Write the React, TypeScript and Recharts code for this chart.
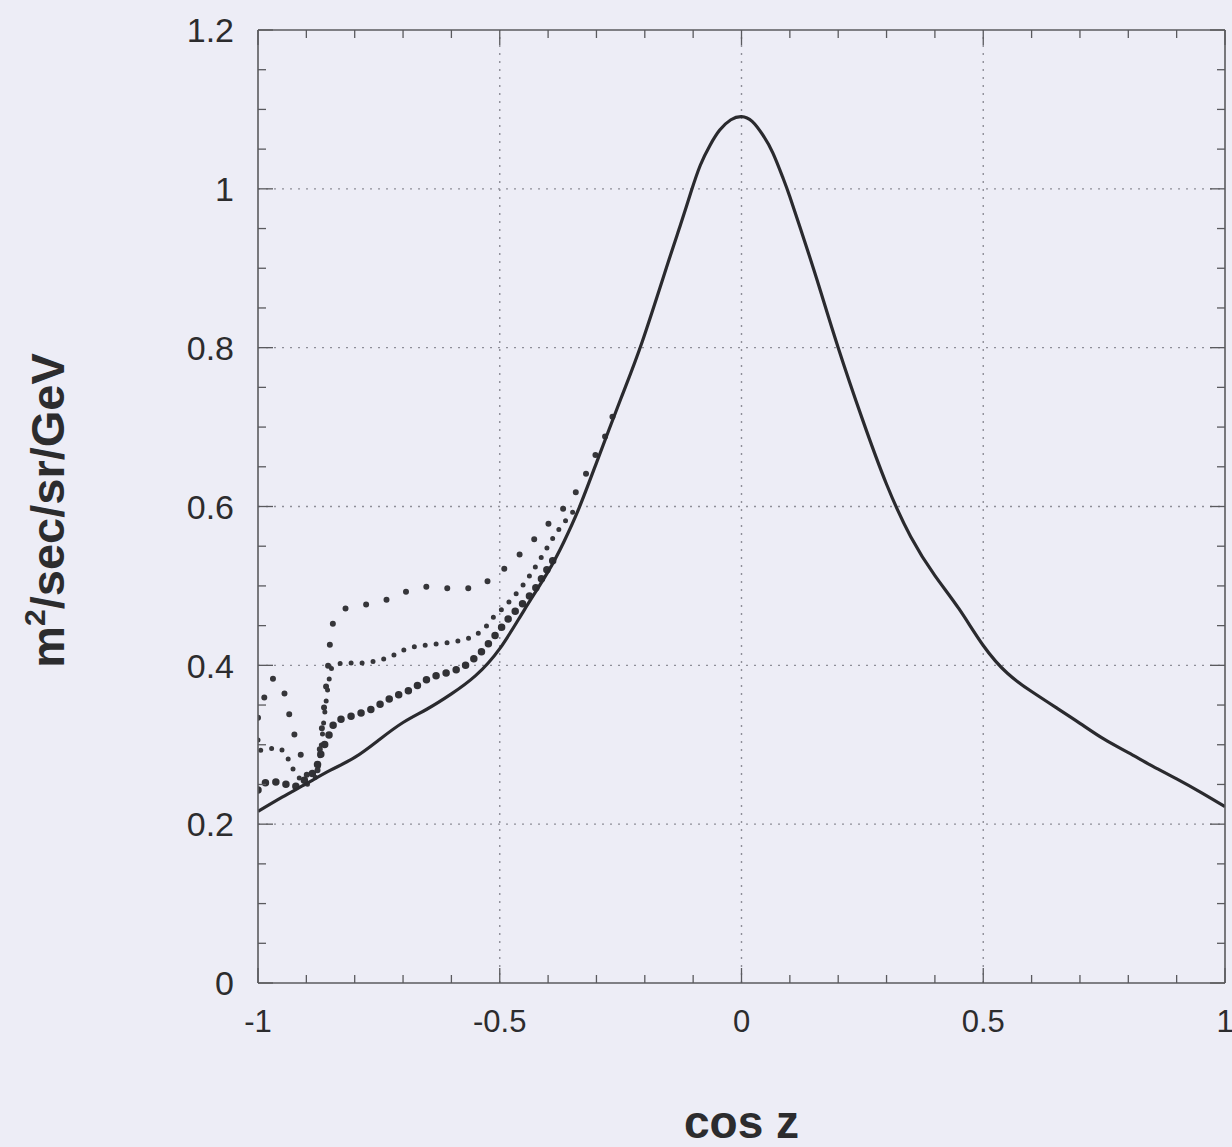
import { LineChart, Line, XAxis, YAxis, ReferenceLine } from "recharts";

// cos z grid points, one pair of arrays per curve.
const solidCos = [
  -1, -0.95, -0.9, -0.85, -0.8, -0.75, -0.7, -0.65, -0.6, -0.55, -0.5, -0.45, -0.4, -0.367, -0.336,
  -0.3, -0.25, -0.205, -0.153, -0.126, -0.105, -0.085, -0.065, -0.045, -0.022, 0, 0.022, 0.045, 0.065,
  0.085, 0.1, 0.13, 0.16, 0.2, 0.25, 0.3, 0.35, 0.4, 0.45, 0.5, 0.55, 0.6, 0.65, 0.7, 0.75, 0.8, 0.85,
  0.9, 0.95, 1,
];
const solidFlux = [
  0.216, 0.234, 0.251, 0.268, 0.284, 0.306, 0.328, 0.345, 0.364, 0.387, 0.421, 0.469, 0.518, 0.556, 0.598,
  0.655, 0.735, 0.808, 0.905, 0.955, 0.995, 1.03, 1.055, 1.074, 1.087, 1.091, 1.085, 1.067, 1.045,
  1.015, 0.99, 0.935, 0.878, 0.8, 0.71, 0.628, 0.562, 0.513, 0.471, 0.425, 0.39, 0.367, 0.347, 0.327,
  0.307, 0.29, 0.273, 0.257, 0.24, 0.222,
];

const sparseCos = [
  -1, -0.986, -0.966, -0.941, -0.933, -0.92, -0.906, -0.893, -0.88, -0.868, -0.855, -0.848, -0.835,
  -0.826, -0.78, -0.737, -0.692, -0.648, -0.602, -0.558, -0.513, -0.472, -0.43, -0.389, -0.35, -0.326,
  -0.302, -0.281, -0.267, -0.25,
];
const sparseFlux = [
  0.334, 0.361, 0.384, 0.356, 0.331, 0.304, 0.277, 0.255, 0.26, 0.32, 0.4, 0.445, 0.465,
  0.47, 0.476, 0.482, 0.493, 0.499, 0.497, 0.497, 0.511, 0.532, 0.558, 0.585, 0.611, 0.636,
  0.665, 0.69, 0.713, 0.735,
];

const midCos = [
  -1, -0.995, -0.96, -0.94, -0.93, -0.917, -0.9, -0.885, -0.872, -0.862, -0.852, -0.845, -0.817,
  -0.79, -0.735, -0.686, -0.645, -0.603, -0.576, -0.551, -0.531, -0.514, -0.493, -0.472, -0.452,
  -0.437, -0.41, -0.385, -0.36, -0.336,
];
const midFlux = [
  0.306, 0.293, 0.296, 0.285, 0.272, 0.26, 0.25, 0.255, 0.285, 0.34, 0.385, 0.4, 0.403,
  0.403, 0.409, 0.422, 0.426, 0.429, 0.432, 0.438, 0.447, 0.46, 0.472, 0.486, 0.501,
  0.514, 0.54, 0.565, 0.585, 0.602,
];

const thickCos = [
  -1, -0.98, -0.955, -0.928, -0.903, -0.879, -0.869, -0.851, -0.84, -0.817, -0.797, -0.776, -0.721,
  -0.686, -0.645, -0.603, -0.576, -0.556, -0.535, -0.517, -0.496, -0.479, -0.452, -0.424, -0.403, -0.38,
];
const thickFlux = [
  0.243, 0.253, 0.253, 0.247, 0.256, 0.272, 0.29, 0.315, 0.329, 0.334, 0.338, 0.342, 0.36,
  0.369, 0.384, 0.392, 0.398, 0.407, 0.419, 0.432, 0.448, 0.461, 0.478, 0.499, 0.52, 0.541,
];

const xMajor = [-1, -0.5, 0, 0.5, 1];
const xMinor = [-0.9, -0.8, -0.7, -0.6, -0.4, -0.3, -0.2, -0.1, 0.1, 0.2, 0.3, 0.4, 0.6, 0.7, 0.8, 0.9];
const yMajor = [0, 0.2, 0.4, 0.6, 0.8, 1, 1.2];
const yMinor = [
  0.05, 0.1, 0.15, 0.25, 0.3, 0.35, 0.45, 0.5, 0.55, 0.65, 0.7, 0.75, 0.85, 0.9, 0.95, 1.05, 1.1, 1.15,
];
const xGrid = [-0.5, 0, 0.5];
const yGrid = [0.2, 0.4, 0.6, 0.8, 1];

const zip = (xs: number[], ys: number[]) => xs.map((x, i) => ({ x, y: ys[i] }));
const solid = zip(solidCos, solidFlux);
const sparse = zip(sparseCos, sparseFlux);
const mid = zip(midCos, midFlux);
const thick = zip(thickCos, thickFlux);

const xTicks = [...xMajor, ...xMinor].sort((a, b) => a - b);
const yTicks = [...yMajor, ...yMinor].sort((a, b) => a - b);

const FONT = '"Liberation Sans", Arial, Helvetica, sans-serif';
const INK = "#2c2c2e";
const FRAME = "#5a5a5e";
const X_GAP = 27;
const Y_GAP = 24;

const isIn = (arr: number[], v: number) => arr.some((a) => Math.abs(a - v) < 1e-6);

function BottomTick({ x, y, payload }: any) {
  const major = isIn(xMajor, payload.value);
  const y0 = y - X_GAP;
  return (
    <g>
      <line x1={x} x2={x} y1={y0} y2={y0 - (major ? 15 : 8)} stroke={FRAME} strokeWidth={1.3} />
      {major && (
        <text x={x} y={y} dy="0.71em" textAnchor="middle" fontFamily={FONT} fontSize={31} fill={INK}>
          {String(payload.value)}
        </text>
      )}
    </g>
  );
}

function TopTick({ x, y, payload }: any) {
  const major = isIn(xMajor, payload.value);
  return <line x1={x} x2={x} y1={y} y2={y + (major ? 15 : 8)} stroke={FRAME} strokeWidth={1.3} />;
}

function LeftTick({ x, y, payload }: any) {
  const major = isIn(yMajor, payload.value);
  const x0 = x + Y_GAP;
  return (
    <g>
      <line x1={x0} x2={x0 + (major ? 15 : 8)} y1={y} y2={y} stroke={FRAME} strokeWidth={1.3} />
      {major && (
        <text x={x} y={y} dy="0.36em" textAnchor="end" fontFamily={FONT} fontSize={34} fill={INK}>
          {String(payload.value)}
        </text>
      )}
    </g>
  );
}

function RightTick({ x, y, payload }: any) {
  const major = isIn(yMajor, payload.value);
  return <line x1={x} x2={x - (major ? 15 : 8)} y1={y} y2={y} stroke={FRAME} strokeWidth={1.3} />;
}

function YTitle({ viewBox }: any) {
  const cx = viewBox.x + 64;
  const cy = viewBox.y + viewBox.height / 2 + 4;
  return (
    <text
      transform={`translate(${cx},${cy}) rotate(-90)`}
      textAnchor="middle"
      fontFamily={FONT}
      fontWeight="bold"
      fontSize={47}
      fill={INK}
    >
      m
      <tspan dy={-19} fontSize={30}>
        2
      </tspan>
      <tspan dy={19}>/sec/sr/GeV</tspan>
    </text>
  );
}

function XTitle({ viewBox }: any) {
  return (
    <text
      x={viewBox.x + viewBox.width / 2}
      y={viewBox.y + 155}
      textAnchor="middle"
      fontFamily={FONT}
      fontWeight="bold"
      fontSize={46}
      fill={INK}
    >
      cos z
    </text>
  );
}

export default function App() {
  return (
    <div style={{ position: "absolute", left: 0, top: 0, width: 1232, height: 1147, background: "#ededf6" }}>
      <LineChart width={1232} height={1147} margin={{ top: 29, right: 6, bottom: 0, left: 0 }}>
        <XAxis
          xAxisId="b"
          dataKey="x"
          type="number"
          domain={[-1, 1]}
          ticks={xTicks}
          interval={0}
          allowDataOverflow
          height={164}
          tickSize={0}
          tickMargin={X_GAP}
          tickLine={false}
          tick={<BottomTick />}
          axisLine={{ stroke: FRAME, strokeWidth: 1.6 }}
          label={(p: any) => <XTitle {...p} />}
        />
        <XAxis
          xAxisId="t"
          orientation="top"
          dataKey="x"
          type="number"
          domain={[-1, 1]}
          ticks={xTicks}
          interval={0}
          allowDataOverflow
          height={1}
          tickSize={0}
          tickMargin={0}
          tickLine={false}
          tick={<TopTick />}
          axisLine={{ stroke: FRAME, strokeWidth: 1.6 }}
        />
        <YAxis
          yAxisId="l"
          type="number"
          domain={[0, 1.2]}
          ticks={yTicks}
          interval={0}
          allowDataOverflow
          width={258}
          tickSize={0}
          tickMargin={Y_GAP}
          tickLine={false}
          tick={<LeftTick />}
          axisLine={{ stroke: FRAME, strokeWidth: 1.6 }}
          label={(p: any) => <YTitle {...p} />}
        />
        <YAxis
          yAxisId="r"
          orientation="right"
          type="number"
          domain={[0, 1.2]}
          ticks={yTicks}
          interval={0}
          allowDataOverflow
          width={1}
          tickSize={0}
          tickMargin={0}
          tickLine={false}
          tick={<RightTick />}
          axisLine={{ stroke: FRAME, strokeWidth: 1.6 }}
        />
        {xGrid.map((v) => (
          <ReferenceLine
            key={`gx${v}`}
            x={v}
            xAxisId="b"
            yAxisId="l"
            stroke="#8e8e98"
            strokeWidth={1.4}
            strokeDasharray="2 6"
          />
        ))}
        {yGrid.map((v) => (
          <ReferenceLine
            key={`gy${v}`}
            y={v}
            xAxisId="b"
            yAxisId="l"
            stroke="#8e8e98"
            strokeWidth={1.4}
            strokeDasharray="2 6"
          />
        ))}
        <Line
          data={sparse}
          dataKey="y"
          xAxisId="b"
          yAxisId="l"
          type="monotone"
          stroke="#36363a"
          strokeWidth={6}
          strokeDasharray="0 21"
          strokeLinecap="round"
          dot={false}
          isAnimationActive={false}
        />
        <Line
          data={mid}
          dataKey="y"
          xAxisId="b"
          yAxisId="l"
          type="monotone"
          stroke="#36363a"
          strokeWidth={5}
          strokeDasharray="0 11"
          strokeLinecap="round"
          dot={false}
          isAnimationActive={false}
        />
        <Line
          data={thick}
          dataKey="y"
          xAxisId="b"
          yAxisId="l"
          type="monotone"
          stroke="#313135"
          strokeWidth={7.5}
          strokeDasharray="0 10.5"
          strokeLinecap="round"
          dot={false}
          isAnimationActive={false}
        />
        <Line
          data={solid}
          dataKey="y"
          xAxisId="b"
          yAxisId="l"
          type="natural"
          stroke="#2a2a2e"
          strokeWidth={3.2}
          dot={false}
          isAnimationActive={false}
        />
      </LineChart>
    </div>
  );
}
